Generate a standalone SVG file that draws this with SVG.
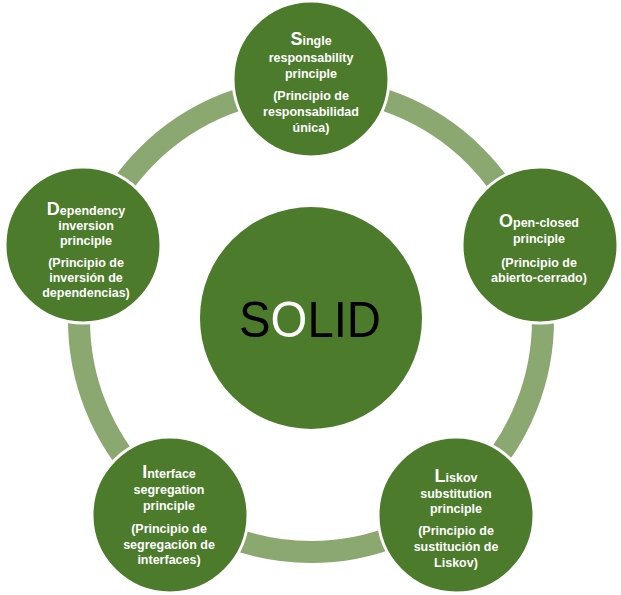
<svg xmlns="http://www.w3.org/2000/svg" width="621" height="595" viewBox="0 0 621 595">
<style>
.node{fill:#4b7b2b;stroke:#ffffff;stroke-width:3}
.lbl{font-family:"Liberation Sans",Arial,sans-serif;font-weight:bold;font-size:12.5px;fill:#ffffff;text-anchor:middle}
.cap{font-size:18px}
.ring{fill:none;stroke:#8aa870;stroke-width:22}
</style>
<rect width="621" height="595" fill="#ffffff"/>
<g id="connectors">
<circle class="ring" cx="311" cy="320" r="232"/>
</g>
<g id="node-solid">
<circle cx="311" cy="318" r="111" fill="#4b7b2b"/>
<text x="310" y="337" font-family="'Liberation Sans',Arial,sans-serif" font-size="50" text-anchor="middle" textLength="142" lengthAdjust="spacingAndGlyphs" fill="#000000">S<tspan fill="#ffffff">O</tspan>LID</text>
</g>
<g id="node-s">
<circle class="node" cx="311" cy="79" r="78"/>
<text class="lbl"><tspan x="311" y="45"><tspan class="cap">S</tspan>ingle</tspan><tspan x="311" y="62">responsability</tspan><tspan x="311" y="78">principle</tspan><tspan x="311" y="100">(Principio de</tspan><tspan x="311" y="116">responsabilidad</tspan><tspan x="311" y="132">única)</tspan></text>
</g>
<g id="node-o">
<circle class="node" cx="540" cy="245" r="78"/>
<text class="lbl"><tspan x="539" y="227"><tspan class="cap">O</tspan>pen-closed</tspan><tspan x="539" y="243">principle</tspan><tspan x="539" y="267">(Principio de</tspan><tspan x="539" y="282">abierto-cerrado)</tspan></text>
</g>
<g id="node-l">
<circle class="node" cx="456" cy="515" r="78"/>
<text class="lbl"><tspan x="456" y="482"><tspan class="cap">L</tspan>iskov</tspan><tspan x="456" y="498">substitution</tspan><tspan x="456" y="513">principle</tspan><tspan x="456" y="535">(Principio de</tspan><tspan x="456" y="551">sustitución de</tspan><tspan x="456" y="567">Liskov)</tspan></text>
</g>
<g id="node-i">
<circle class="node" cx="170" cy="515" r="78"/>
<text class="lbl"><tspan x="169" y="478"><tspan class="cap">I</tspan>nterface</tspan><tspan x="169" y="494">segregation</tspan><tspan x="169" y="510">principle</tspan><tspan x="169" y="533">(Principio de</tspan><tspan x="169" y="549">segregación de</tspan><tspan x="169" y="564">interfaces)</tspan></text>
</g>
<g id="node-d">
<circle class="node" cx="83" cy="245" r="78"/>
<text class="lbl"><tspan x="86" y="215"><tspan class="cap">D</tspan>ependency</tspan><tspan x="86" y="230">inversion</tspan><tspan x="86" y="245">principle</tspan><tspan x="86" y="267">(Principio de</tspan><tspan x="86" y="282">inversión de</tspan><tspan x="86" y="297">dependencias)</tspan></text>
</g>
</svg>
